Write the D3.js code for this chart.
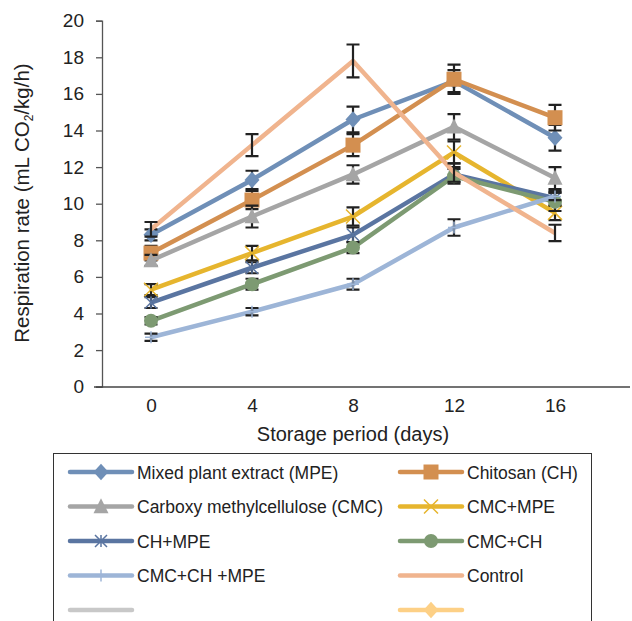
<!DOCTYPE html>
<html><head><meta charset="utf-8">
<script src="https://cdn.jsdelivr.net/npm/d3@7/dist/d3.min.js"></script>
<style>body{margin:0;background:#fff}svg{display:block;font-family:"Liberation Sans",Arial,sans-serif}</style>
</head><body><svg id="c" width="632" height="621"></svg>
<script>
const days = ["0","4","8","12","16"];
const yTicks = [0,2,4,6,8,10,12,14,16,18,20];
const seriesNames = ["Mixed plant extract (MPE)","Chitosan (CH)","Carboxy methylcellulose (CMC)","CMC+MPE","CH+MPE","CMC+CH","CMC+CH +MPE","Control"];
const mpe      = [8.3, 11.3, 14.6, 16.7, 13.6];
const ch       = [7.3, 10.2, 13.2, 16.8, 14.7];
const cmc      = [6.9, 9.3, 11.6, 14.2, 11.4];
const cmcMpe   = [5.3, 7.3, 9.3, 12.8, 9.5];
const chMpe    = [4.6, 6.5, 8.3, 11.6, 10.3];
const cmcCh    = [3.6, 5.6, 7.6, 11.5, 10.1];
const cmcChMpe = [2.7, 4.1, 5.6, 8.7, 10.4];
const control  = [8.6, 13.2, 17.8, 11.7, 8.4];
const errMpe      = [0.3, 0.5, 0.7, 0.6, 0.7];
const errCh       = [0.4, 0.5, 0.6, 0.8, 0.7];
const errCmc      = [0.3, 0.6, 0.5, 0.7, 0.6];
const errCmcMpe   = [0.3, 0.4, 0.5, 0.6, 0.4];
const errChMpe    = [0.3, 0.3, 0.4, 0.4, 0.4];
const errCmcCh    = [0.2, 0.3, 0.3, 0.4, 0.5];
const errCmcChMpe = [0.2, 0.2, 0.3, 0.45, 0.2];
const errControl  = [0.4, 0.6, 0.9, 0.5, 0.45];

const colors = ["#6f8fb7","#d38f50","#a5a5a5","#e6b52e","#5a75a1","#7d9a72","#9db5d7","#f0b48e"];
const markers = ["diamond","square","triangle","x","asterisk","circle","plus","none"];
const values = [mpe,ch,cmc,cmcMpe,chMpe,cmcCh,cmcChMpe,control];
const errs = [errMpe,errCh,errCmc,errCmcMpe,errChMpe,errCmcCh,errCmcChMpe,errControl];

const svg = d3.select("#c");
const x = d3.scalePoint().domain(days).range([100.5,605.5]).padding(0.5);
const y = d3.scaleLinear().domain([0,20]).range([386.7,20.7]);

// y axis
const yAx = svg.append("g").attr("transform","translate(102,0)")
  .call(d3.axisLeft(y).tickValues(yTicks).tickSize(6).tickPadding(12));
yAx.select(".domain").attr("stroke","#555").attr("stroke-width",1.3);
yAx.selectAll(".tick line").attr("stroke","#555").attr("stroke-width",1.3);
yAx.selectAll(".tick text").attr("font-size",19).attr("fill","#222").attr("font-family","Liberation Sans, Arial, sans-serif");

// x axis
const xAx = svg.append("g").attr("transform","translate(0,387)")
  .call(d3.axisBottom(x).tickSize(0).tickPadding(12));
xAx.select(".domain").remove();
xAx.append("line").attr("x1",94).attr("x2",630).attr("stroke","#444").attr("stroke-width",1.3);
xAx.selectAll(".tick text").attr("font-size",19).attr("fill","#222").attr("font-family","Liberation Sans, Arial, sans-serif");

svg.append("text").attr("x",353).attr("y",441).attr("text-anchor","middle")
  .attr("font-size",20).attr("fill","#222").text("Storage period (days)");

const yl = svg.append("text").attr("transform","translate(29,203) rotate(-90)")
  .attr("text-anchor","middle").attr("font-size",20.5).attr("fill","#222");
yl.append("tspan").text("Respiration rate (mL CO");
yl.append("tspan").attr("font-size",12).attr("dy",4).text("2");
yl.append("tspan").attr("dy",-4).text("/kg/h)");

const line = d3.line().x((d,i)=>x(days[i])).y(d=>y(d));

function marker(g, type, color, cx, cy, s) {
  if (type==="diamond") g.append("path").attr("d",`M${cx},${cy-s*0.55}L${cx+s*0.5},${cy}L${cx},${cy+s*0.55}L${cx-s*0.5},${cy}Z`).attr("fill",color);
  else if (type==="square") g.append("rect").attr("x",cx-s/2).attr("y",cy-s/2).attr("width",s).attr("height",s).attr("fill",color);
  else if (type==="triangle") g.append("path").attr("d",`M${cx},${cy-s*0.55}L${cx+s*0.5},${cy+s*0.45}L${cx-s*0.5},${cy+s*0.45}Z`).attr("fill",color);
  else if (type==="circle") g.append("circle").attr("cx",cx).attr("cy",cy).attr("r",s/2).attr("fill",color);
  else if (type==="x") g.append("path").attr("d",`M${cx-s/2},${cy-s/2}L${cx+s/2},${cy+s/2}M${cx-s/2},${cy+s/2}L${cx+s/2},${cy-s/2}`).attr("stroke",color).attr("stroke-width",1.5);
  else if (type==="asterisk") g.append("path").attr("d",`M${cx-s/2},${cy-s/2}L${cx+s/2},${cy+s/2}M${cx-s/2},${cy+s/2}L${cx+s/2},${cy-s/2}M${cx},${cy-s/2}L${cx},${cy+s/2}`).attr("stroke",color).attr("stroke-width",1.5);
  else if (type==="plus") g.append("path").attr("d",`M${cx},${cy-s/2}L${cx},${cy+s/2}M${cx-s/2},${cy}L${cx+s/2},${cy}`).attr("stroke",color).attr("stroke-width",1.5);
}
const msize = {diamond:15,square:15,triangle:15,circle:14,x:14,asterisk:12,plus:12};

const plot = svg.append("g");
values.forEach((vals,si)=>{
  const g = plot.append("g");
  g.append("path").datum(vals).attr("d",line).attr("fill","none")
    .attr("stroke",colors[si]).attr("stroke-width",4.5).attr("stroke-linejoin","round");
  vals.forEach((v,i)=>{
    const cx = x(days[i]), e = errs[si][i];
    const t = y(v+e), b = y(v-e);
    g.append("path").attr("d",`M${cx},${t}L${cx},${b}M${cx-6.5},${t}L${cx+6.5},${t}M${cx-6.5},${b}L${cx+6.5},${b}`)
      .attr("stroke","#222").attr("stroke-width",2.2).attr("fill","none");
  });
  vals.forEach((v,i)=>{
    if (markers[si]!=="none") marker(g, markers[si], colors[si], x(days[i]), y(v), msize[markers[si]]);
  });
});

// legend
const lg = svg.append("g");
lg.append("rect").attr("x",53.5).attr("y",453.5).attr("width",538).attr("height",180)
  .attr("fill","none").attr("stroke","#333").attr("stroke-width",1);
const legendNames = seriesNames.concat(["",""]);
const legendColors = colors.concat(["#c8c8c8","#fdd086"]);
const legendMarkers = markers.concat(["none","diamond"]);
legendNames.forEach((n,k)=>{
  const col = k%2, row = Math.floor(k/2);
  const x0 = col===0 ? 70 : 400, ly = 472 + row*34.5;
  lg.append("line").attr("x1",x0).attr("x2",x0+62).attr("y1",ly).attr("y2",ly)
    .attr("stroke",legendColors[k]).attr("stroke-width",4.5).attr("stroke-linecap","round");
  if (legendMarkers[k]!=="none") marker(lg, legendMarkers[k], legendColors[k], x0+31, ly, msize[legendMarkers[k]]);
  lg.append("text").attr("x",x0+67).attr("y",ly+6.5).attr("font-size",17.5).attr("fill","#222").text(n);
});
</script></body></html>
